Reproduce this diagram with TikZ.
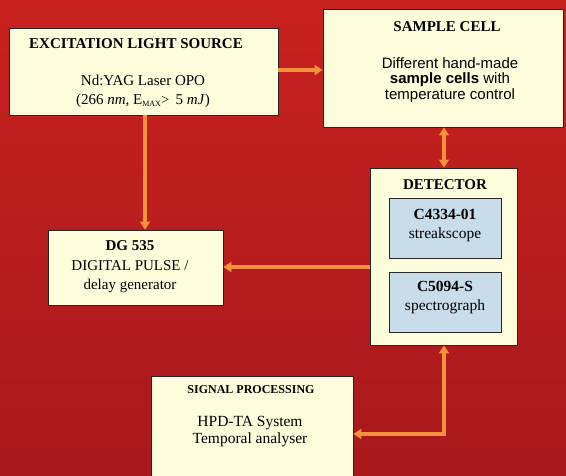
\documentclass[tikz,border=0pt]{standalone}
\usepackage{fontspec}
\setmainfont{Liberation Serif}
\newfontfamily\arialfont{Liberation Sans}
\usetikzlibrary{arrows.meta}
\definecolor{bgtop}{HTML}{C8221E}
\definecolor{bgbot}{HTML}{A8181C}
\definecolor{boxfill}{HTML}{FDFDDC}
\definecolor{innerfill}{HTML}{C9DCEA}
\definecolor{arrowc}{HTML}{F3923C}
\tikzset{
  blk/.style={draw=black!85, line width=0.8pt, fill=boxfill, inner sep=0pt},
  inblk/.style={draw=black!85, line width=0.8pt, fill=innerfill, inner sep=0pt},
  conn/.style={draw=arrowc, line width=3.5pt, -{Triangle[length=8pt,width=10pt]}},
  conn2/.style={draw=arrowc, line width=3.5pt, {Triangle[length=8pt,width=10pt]}-{Triangle[length=8pt,width=10pt]}},
  txt/.style={align=center, text=black, inner sep=0pt}
}
\begin{document}
\begin{tikzpicture}[x=1pt,y=-1pt]
\useasboundingbox (0,0) rectangle (566,476);
\shade[top color=bgtop, bottom color=bgbot] (0,0) rectangle (566,476);
% boxes
\node[blk, minimum width=269pt, minimum height=87pt] (exc) at (143.5,71.5) {};
\node[blk, minimum width=240pt, minimum height=118pt] (cell) at (443,68) {};
\node[blk, minimum width=147pt, minimum height=177pt] (det) at (443.5,256.5) {};
\node[inblk, minimum width=112pt, minimum height=60pt] (streak) at (445,228) {};
\node[inblk, minimum width=112pt, minimum height=60pt] (spec) at (445,302) {};
\node[blk, minimum width=175pt, minimum height=75pt] (dg) at (135.5,267.5) {};
\node[blk, minimum width=202pt, minimum height=110pt] (sig) at (252,431) {};
% texts
\node[txt, font=\bfseries\fontsize{15}{17}\selectfont] (excT) at (136,44) {EXCITATION LIGHT SOURCE};
\node[txt, font=\fontsize{15}{19}\selectfont] (excB) at (143,91) {Nd:YAG Laser OPO\\(266 \textit{nm}, E\textsubscript{\fontsize{8}{9}\selectfont MAX}{\fontsize{14}{16}\selectfont >}\, 5 \textit{mJ})};
\node[txt, font=\bfseries\fontsize{15}{17}\selectfont] (cellT) at (447,27) {SAMPLE CELL};
\node[txt, font=\arialfont\fontsize{15}{15.5}\selectfont] (cellB) at (450,80) {Different hand-made\\\textbf{sample cells} with\\temperature control};
\node[txt, font=\bfseries\fontsize{15}{17}\selectfont] (detT) at (445,185) {DETECTOR};
\node[txt, font=\fontsize{15.5}{19}\selectfont] (streakT) at (445,225) {\textbf{C4334-01}\\streakscope};
\node[txt, font=\fontsize{15.5}{19}\selectfont] (specT) at (445,298) {\textbf{C5094-S}\\spectrograph};
\node[txt, font=\fontsize{15}{19.5}\selectfont] (dgT) at (130,267) {\textbf{DG 535}\\DIGITAL PULSE /\\delay generator};
\node[txt, font=\bfseries\fontsize{12}{14}\selectfont] (sigT) at (251,390) {SIGNAL PROCESSING};
\node[txt, font=\fontsize{15.5}{17}\selectfont] (sigB) at (250,431.5) {HPD-TA System\\Temporal analyser};
% connectors
\coordinate (c1) at (444,434);
\draw[conn] (exc.east |- 0,70) -- (cell.west |- 0,70);
\draw[conn] (exc.south -| 145,0) -- (dg.north -| 145,0);
\draw[conn2] (cell.south -| 444,0) -- (det.north -| 444,0);
\draw[conn] (det.west |- 0,267) -- (dg.east |- 0,267);
\draw[conn2] (det.south -| 444,0) -- (c1) -- (sig.east |- c1);
\end{tikzpicture}
\end{document}
